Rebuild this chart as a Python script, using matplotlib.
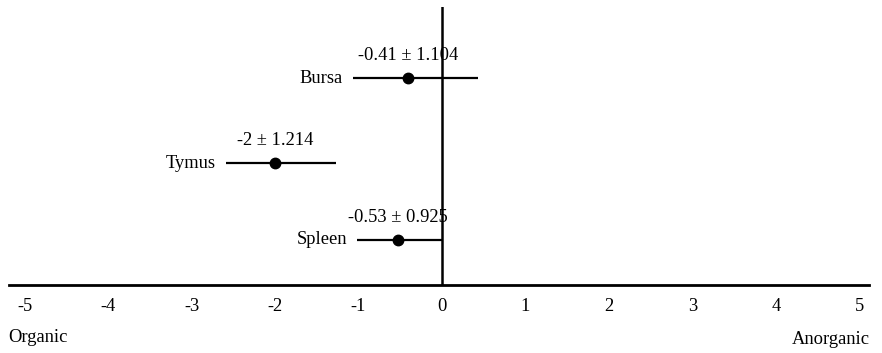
import matplotlib.pyplot as plt

# data
organs = ["Spleen", "Tymus", "Bursa"]
means = [-0.53, -2.0, -0.41]
sds = [0.925, 1.214, 1.104]
bar_lo = [-1.02, -2.59, -1.07]   # bar ends as drawn in the picture
bar_hi = [0.0, -1.27, 0.43]
ticks = [-5, -4, -3, -2, -1, 0, 1, 2, 3, 4, 5]

plt.rcParams['font.family'] = ['Liberation Serif', 'DejaVu Serif']
FS = 13.3

fig = plt.figure(figsize=(8.82, 3.53), dpi=100)
ax = fig.add_axes([9 / 882, 68 / 353, 860 / 882, 278 / 353])

ypos = [1, 1.95, 3]
xerr = [[m - lo for m, lo in zip(means, bar_lo)],
        [hi - m for m, hi in zip(means, bar_hi)]]
ax.errorbar(means, ypos, xerr=xerr, fmt='o', color='black',
            ecolor='black', elinewidth=1.6, capsize=0, markersize=7.5)

for m, s, lo, y, name in zip(means, sds, bar_lo, ypos, organs):
    ax.annotate(f"{m:g} \u00b1 {s:g}", (m, y), xytext=(0, 16),
                textcoords='offset points', ha='center', va='center', fontsize=FS)
    ax.annotate(name, (lo, y), xytext=(-7, 0), textcoords='offset points',
                ha='right', va='center', fontsize=FS)

ax.axvline(0, color='black', lw=1.8)

ax.set_xlim(-5.186, 5.114)
ax.set_ylim(0.444, 3.877)
ax.set_xticks(ticks)
ax.set_xticklabels([str(t) for t in ticks], fontsize=FS)
ax.set_yticks([])
ax.tick_params(axis='x', length=0, pad=9.5)
for side in ['top', 'left', 'right']:
    ax.spines[side].set_visible(False)
ax.spines['bottom'].set_linewidth(2)

fig.text(8 / 882, 1 - 337 / 353, "Organic", ha='left', va='center', fontsize=FS)
fig.text(870 / 882, 1 - 339 / 353, "Anorganic", ha='right', va='center', fontsize=FS)

fig.savefig("out.png", dpi=100)
